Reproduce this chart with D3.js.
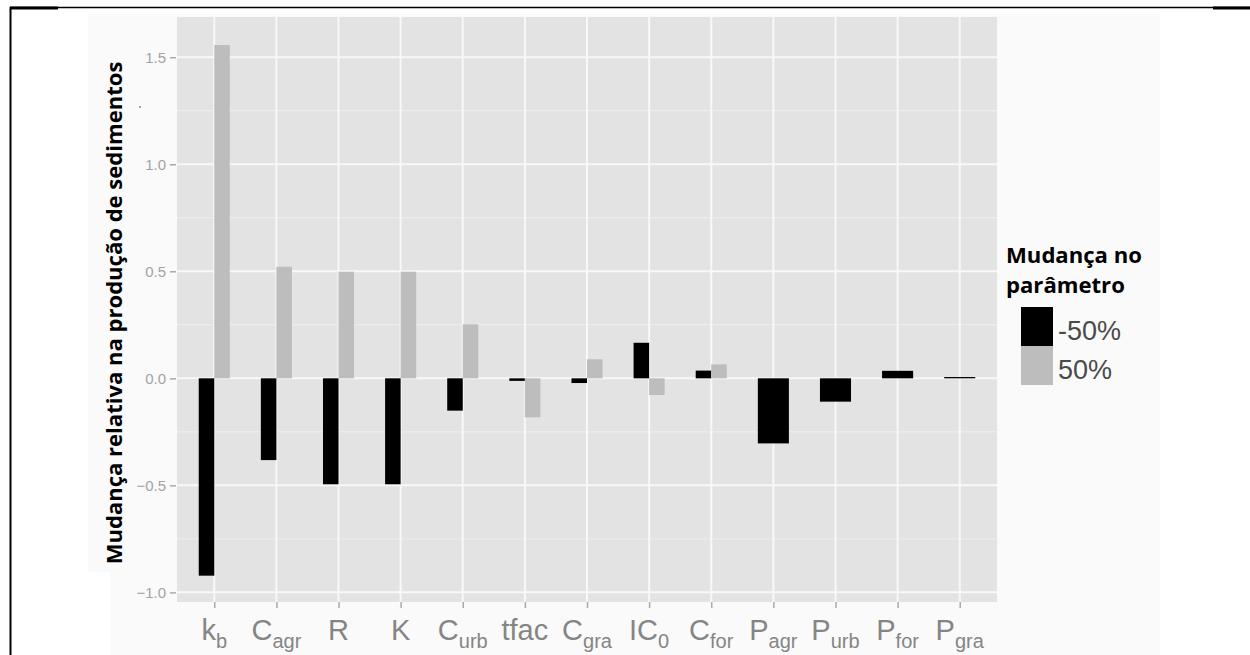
<!DOCTYPE html>
<html>
<head>
<meta charset="utf-8">
<script src="https://cdn.jsdelivr.net/npm/d3@7"></script>
<style>
  html, body { margin: 0; padding: 0; background: #ffffff; }
  svg { display: block; }
</style>
</head>
<body>
<svg id="chart" width="1250" height="655"></svg>
<script>
// ---- data ----
const categories = ["kb", "Cagr", "R", "K", "Curb", "tfac", "Cgra", "IC0", "Cfor", "Pagr", "Purb", "Pfor", "Pgra"];
const labelMain  = ["k", "C", "R", "K", "C", "tfac", "C", "IC", "C", "P", "P", "P", "P"];
const labelSub   = ["b", "agr", "", "", "urb", "", "gra", "0", "for", "agr", "urb", "for", "gra"];
const minus50    = [-0.922, -0.382, -0.495, -0.495, -0.151, -0.012, -0.022, 0.166, 0.036, -0.304, -0.109, 0.035, 0.006];
const plus50     = [1.557, 0.521, 0.498, 0.498, 0.252, -0.182, 0.089, -0.078, 0.065, null, null, null, null];
const yTicks     = [-1.0, -0.5, 0.0, 0.5, 1.0, 1.5];
const yMinor     = [-0.75, -0.25, 0.25, 0.75, 1.25];
const seriesNames  = ["-50%", "50%"];
const seriesColors = ["#000000", "#bdbdbd"];
const yTitle = "Mudança relativa na produção de sedimentos";
const legendTitle = ["Mudança no", "parâmetro"];

// ---- layout ----
const svg = d3.select("#chart");
const panel = { left: 177, right: 997, top: 17, bottom: 602 };

// frame lines (table borders)
svg.append("rect").attr("x", 88).attr("y", 14).attr("width", 1072).attr("height", 558).attr("fill", "#fafafa");
svg.append("rect").attr("x", 110).attr("y", 572).attr("width", 1050).attr("height", 83).attr("fill", "#fafafa");
svg.append("line").attr("x1", 10).attr("x2", 1250).attr("y1", 7.5).attr("y2", 7.5).attr("stroke", "#000").attr("stroke-width", 1.5);
svg.append("line").attr("x1", 10).attr("x2", 58).attr("y1", 8).attr("y2", 8).attr("stroke", "#000").attr("stroke-width", 3);
svg.append("line").attr("x1", 1213).attr("x2", 1250).attr("y1", 8).attr("y2", 8).attr("stroke", "#000").attr("stroke-width", 3);
svg.append("line").attr("x1", 10.5).attr("x2", 10.5).attr("y1", 7).attr("y2", 655).attr("stroke", "#000").attr("stroke-width", 2);

// scales
const x = d3.scalePoint().domain(categories).range([panel.left, panel.right]).padding(0.6);
const y = d3.scaleLinear().domain([-1.045, 1.688]).range([panel.bottom, panel.top]);
const step = x.step();
const barW = step * 0.5;

// panel
svg.append("rect")
  .attr("x", panel.left).attr("y", panel.top)
  .attr("width", panel.right - panel.left).attr("height", panel.bottom - panel.top)
  .attr("fill", "#e3e3e3");

const grid = svg.append("g");
grid.selectAll(".minor").data(yMinor).join("line")
  .attr("x1", panel.left).attr("x2", panel.right)
  .attr("y1", d => y(d)).attr("y2", d => y(d))
  .attr("stroke", "#efefef").attr("stroke-width", 1);
grid.selectAll(".majory").data(yTicks).join("line")
  .attr("x1", panel.left).attr("x2", panel.right)
  .attr("y1", d => y(d)).attr("y2", d => y(d))
  .attr("stroke", "#f8f8f8").attr("stroke-width", 2);
grid.selectAll(".majorx").data(categories).join("line")
  .attr("x1", d => x(d)).attr("x2", d => x(d))
  .attr("y1", panel.top).attr("y2", panel.bottom)
  .attr("stroke", "#f8f8f8").attr("stroke-width", 2);

// bars
const bars = [];
categories.forEach((c, i) => {
  const a = minus50[i], b = plus50[i];
  if (b === null) {
    bars.push({ c, v: a, s: 0, x0: x(c) - barW / 2, w: barW });
  } else {
    bars.push({ c, v: a, s: 0, x0: x(c) - barW / 2, w: barW / 2 });
    bars.push({ c, v: b, s: 1, x0: x(c), w: barW / 2 });
  }
});
svg.append("g").selectAll("rect").data(bars).join("rect")
  .attr("x", d => d.x0)
  .attr("width", d => d.w)
  .attr("y", d => Math.min(y(d.v), y(0)))
  .attr("height", d => Math.max(Math.abs(y(d.v) - y(0)), 0.8))
  .attr("fill", d => seriesColors[d.s]);

// y axis
const yAxis = d3.axisLeft(y).tickValues(yTicks).tickFormat(d3.format(".1f")).tickSize(6).tickPadding(4);
const gy = svg.append("g").attr("transform", `translate(${panel.left - 1},0)`).call(yAxis);
gy.select(".domain").remove();
gy.selectAll(".tick line").attr("stroke", "#aaaaaa").attr("stroke-width", 1.5);
gy.selectAll(".tick text").attr("fill", "#a3a3a3").attr("font-family", "Liberation Sans, Arial, sans-serif").attr("font-size", 15);

// x axis
const xAxis = d3.axisBottom(x).tickSize(6).tickFormat("");
const gx = svg.append("g").attr("transform", `translate(0,${panel.bottom})`).call(xAxis);
gx.select(".domain").remove();
gx.selectAll(".tick line").attr("stroke", "#aaaaaa").attr("stroke-width", 1.5);

const xl = svg.append("g").selectAll("text").data(categories).join("text")
  .attr("x", d => x(d)).attr("y", 640)
  .attr("text-anchor", "middle")
  .attr("fill", "#858585")
  .attr("font-family", "Liberation Sans, Arial, sans-serif")
  .attr("font-size", 29);
xl.each(function (d, i) {
  const t = d3.select(this);
  t.append("tspan").text(labelMain[i]);
  if (labelSub[i]) {
    t.append("tspan").attr("font-size", 20).attr("dy", 8).text(labelSub[i]);
  }
});

// y title
const yt = svg.append("text")
  .attr("transform", "translate(122,313) rotate(-90)")
  .attr("text-anchor", "middle")
  .attr("font-family", "Open Sans, Noto Sans, sans-serif")
  .attr("font-weight", "bold")
  .attr("font-size", 20)
  .attr("fill", "#000")
  .text(yTitle);
{
  const len = yt.node().getComputedTextLength();
  yt.attr("font-size", 20 * 503 / len);
}
svg.append("circle").attr("cx", 140).attr("cy", 107).attr("r", 1).attr("fill", "#888");

// legend
const lt = svg.append("g");
legendTitle.forEach((s, i) => {
  lt.append("text")
    .attr("x", 1006).attr("y", 263 + i * 30)
    .attr("font-family", "Open Sans, Noto Sans, sans-serif")
    .attr("font-weight", "bold")
    .attr("font-size", 18)
    .attr("fill", "#000")
    .text(s);
});
{
  const len = lt.select("text").node().getComputedTextLength();
  lt.selectAll("text").attr("font-size", 18 * 136 / len);
}
const lg = svg.append("g").selectAll("g").data(seriesNames).join("g")
  .attr("transform", (d, i) => `translate(1021,${307 + i * 39})`);
lg.append("rect").attr("width", 32).attr("height", 39).attr("fill", (d, i) => seriesColors[i]);
lg.append("text").attr("x", 37).attr("y", 33)
  .attr("font-family", "Liberation Sans, Arial, sans-serif")
  .attr("font-size", 27).attr("fill", "#4a4a4a")
  .text(d => d);
</script>
</body>
</html>
